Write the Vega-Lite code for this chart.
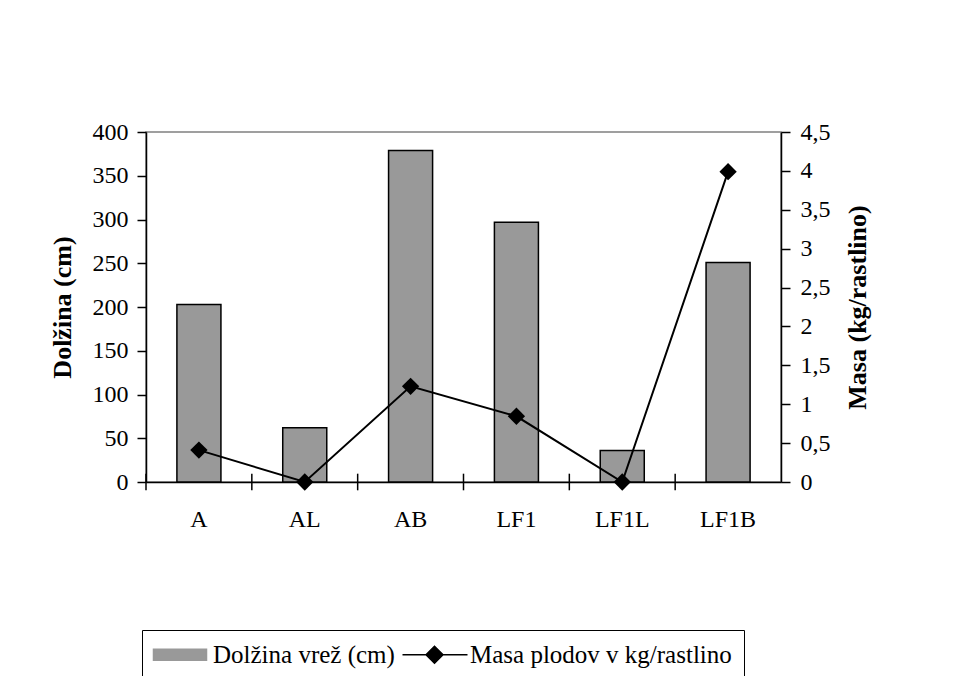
{
  "$schema": "https://vega.github.io/schema/vega-lite/v6.json",
  "width": 635,
  "height": 350,
  "autosize": {"type": "none"},
  "padding": {"left": 146, "top": 132, "right": 173, "bottom": 194},
  "background": "white",
  "config": {
    "font": "Liberation Serif",
    "view": {"stroke": "#808080", "strokeWidth": 1.5},
    "axis": {
      "domainColor": "black", "domainWidth": 1.5, "tickColor": "black", "tickWidth": 1.5,
      "labelColor": "black", "labelFont": "Liberation Serif", "labelFontSize": 24,
      "titleColor": "black", "titleFont": "Liberation Serif", "titleFontSize": 26, "titleFontWeight": "bold",
      "grid": false
    },
    "legend": {
      "orient": "none", "legendX": -4, "legendY": 498, "direction": "horizontal",
      "strokeColor": "black", "fillColor": "white", "padding": 12,
      "labelFont": "Liberation Serif", "labelFontSize": 25, "labelColor": "black", "labelLimit": 0,
      "symbolSize": 400, "labelOffset": 34, "columnPadding": 4
    }
  },
  "data": {
    "values": [
      {"cat": "A", "dolzina": 203, "masa": 0.41},
      {"cat": "AL", "dolzina": 62, "masa": 0},
      {"cat": "AB", "dolzina": 379, "masa": 1.23},
      {"cat": "LF1", "dolzina": 297, "masa": 0.845},
      {"cat": "LF1L", "dolzina": 36, "masa": 0},
      {"cat": "LF1B", "dolzina": 251, "masa": 3.99}
    ]
  },
  "encoding": {
    "x": {
      "field": "cat", "type": "nominal", "sort": null,
      "scale": {"paddingInner": 0, "paddingOuter": 0},
      "axis": {"title": null, "labelAngle": 0, "ticks": false, "labelPadding": 25}
    }
  },
  "layer": [
    {
      "mark": {"type": "bar", "stroke": "black", "strokeWidth": 1.5, "width": {"band": 0.416}},
      "encoding": {
        "y": {
          "field": "dolzina", "type": "quantitative",
          "scale": {"domain": [0, 400], "nice": false},
          "axis": {"title": "Dolžina (cm)", "values": [0, 50, 100, 150, 200, 250, 300, 350, 400], "tickSize": 9, "labelPadding": 9, "titlePadding": 17}
        },
        "color": {
          "datum": "Dolžina vrež (cm)",
          "scale": {"domain": ["Dolžina vrež (cm)", "Masa plodov v kg/rastlino"], "range": ["#999999", "#000000"]},
          "legend": {
            "title": null,
            "encode": {
              "symbols": {
                "update": {
                  "shape": {"signal": "datum.index === 0 ? 'M-1.3,-0.55H4V0.55H-1.3Z' : 'M-2.1,0H4.4M0.25,0L1.1,-0.85L1.95,0L1.1,0.85Z'"},
                  "fill": {"signal": "datum.index === 0 ? '#999999' : '#000000'"},
                  "stroke": {"value": "black"},
                  "strokeWidth": {"value": 1.5},
                  "opacity": {"value": 1}
                }
              }
            }
          }
        }
      }
    },
    {
      "mark": {"type": "line", "strokeWidth": 2, "point": {"shape": "diamond", "filled": true, "size": 300, "opacity": 1}},
      "encoding": {
        "y": {
          "field": "masa", "type": "quantitative",
          "scale": {"domain": [0, 4.5], "nice": false},
          "axis": {"orient": "right", "title": "Masa (kg/rastlino)", "values": [0, 0.5, 1, 1.5, 2, 2.5, 3, 3.5, 4, 4.5], "labelExpr": "replace(format(datum.value, '~g'), '.', ',')", "tickSize": 9, "labelPadding": 10, "titlePadding": 14, "titleAngle": 270, "titleBaseline": "top"}
        },
        "color": {
          "datum": "Masa plodov v kg/rastlino",
          "legend": {
            "title": null,
            "encode": {
              "symbols": {
                "update": {
                  "shape": {"signal": "datum.index === 0 ? 'M-1.3,-0.55H4V0.55H-1.3Z' : 'M-2.1,0H4.4M0.25,0L1.1,-0.85L1.95,0L1.1,0.85Z'"},
                  "fill": {"signal": "datum.index === 0 ? '#999999' : '#000000'"},
                  "stroke": {"value": "black"},
                  "strokeWidth": {"value": 1.5},
                  "opacity": {"value": 1}
                }
              }
            }
          }
        }
      }
    },
    {
      "mark": {"type": "rule", "color": "black", "strokeWidth": 1.5},
      "encoding": {
        "x": {"field": "cat", "type": "nominal", "sort": null, "bandPosition": 0},
        "y": {"datum": -9.5, "scale": {"domain": [0, 400], "nice": false}, "axis": null},
        "y2": {"datum": 9.5}
      }
    }
  ],
  "resolve": {"scale": {"y": "independent"}}
}
